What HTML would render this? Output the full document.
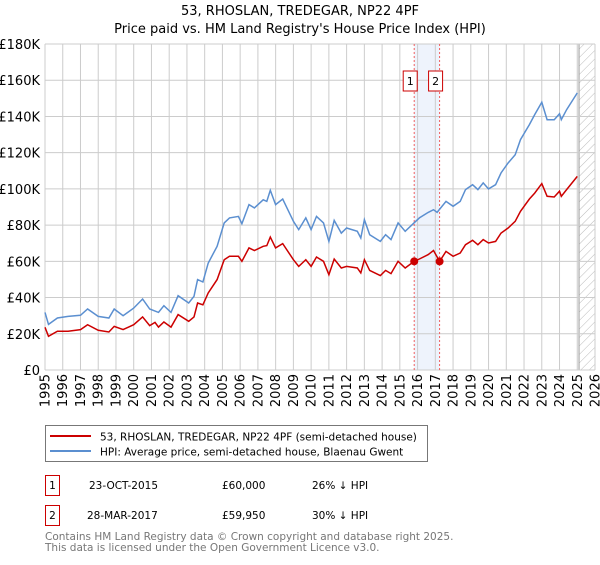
<!DOCTYPE html>
<html><head><meta charset="utf-8"><style>
body{margin:0;background:#fff;font-family:"Liberation Sans","DejaVu Sans",sans-serif}
svg text{font-family:"DejaVu Sans","Liberation Sans",sans-serif}
</style></head><body>
<svg id="chart" width="600" height="560" viewBox="0 0 600 560" xmlns="http://www.w3.org/2000/svg">
<defs><pattern id="hatch" width="6" height="6" patternUnits="userSpaceOnUse" patternTransform="rotate(45)"><line x1="0" y1="0" x2="0" y2="6" stroke="#bbb" stroke-width="1"/></pattern></defs>
<text x="300" y="15" text-anchor="middle" font-size="13">53, RHOSLAN, TREDEGAR, NP22 4PF</text>
<text x="300" y="33" text-anchor="middle" font-size="13">Price paid vs. HM Land Registry's House Price Index (HPI)</text>
<g id="grid"></g>
<g id="marks"></g>
<g id="axes"></g>
<rect x="45.5" y="425.5" width="382" height="36" fill="#fff" stroke="#777"/>
<line x1="50" y1="436" x2="91" y2="436" stroke="#cc0000" stroke-width="2"/>
<text x="100" y="440.5" font-size="10.5">53, RHOSLAN, TREDEGAR, NP22 4PF (semi-detached house)</text>
<line x1="50" y1="451" x2="91" y2="451" stroke="#5b8fd0" stroke-width="2"/>
<text x="100" y="455.5" font-size="10.5">HPI: Average price, semi-detached house, Blaenau Gwent</text>
<g font-size="10.5">
<rect x="45.5" y="475.5" width="14" height="20" fill="#fff" stroke="#cc0000"/>
<text x="52.5" y="489" text-anchor="middle">1</text>
<text x="89" y="489">23-OCT-2015</text><text x="222" y="489">£60,000</text><text x="312" y="489">26% ↓ HPI</text></g>
<g font-size="10.5">
<rect x="45.5" y="505.5" width="14" height="20" fill="#fff" stroke="#cc0000"/>
<text x="52.5" y="519" text-anchor="middle">2</text>
<text x="87" y="519">28-MAR-2017</text><text x="222" y="519">£59,950</text><text x="312" y="519">30% ↓ HPI</text></g>
<text x="45" y="540" font-size="10.5" fill="#777">Contains HM Land Registry data © Crown copyright and database right 2025.</text>
<text x="45" y="551" font-size="10.5" fill="#777">This data is licensed under the Open Government Licence v3.0.</text>
</svg>
<script>
const hpiYears=[1995.0,1995.2,1995.7,1996.3,1997.0,1997.4,1998.0,1998.6,1998.9,1999.4,2000.0,2000.5,2000.9,2001.4,2001.7,2002.1,2002.5,2003.1,2003.4,2003.6,2003.9,2004.2,2004.7,2005.1,2005.4,2005.9,2006.1,2006.5,2006.8,2007.3,2007.5,2007.7,2008.0,2008.4,2009.0,2009.3,2009.7,2010.0,2010.3,2010.7,2011.0,2011.3,2011.7,2012.0,2012.6,2012.8,2013.0,2013.3,2013.9,2014.2,2014.5,2014.9,2015.3,2015.8,2016.1,2016.6,2016.9,2017.1,2017.6,2018.0,2018.4,2018.7,2019.1,2019.4,2019.7,2020.0,2020.4,2020.7,2021.1,2021.5,2021.8,2022.3,2022.6,2023.0,2023.3,2023.7,2024.0,2024.1,2024.4,2025.0];
const hpiValues=[31800,25200,28700,29600,30200,33700,29600,28700,33700,30000,34200,39200,33700,31800,35500,31800,41000,37000,40700,49900,48600,59000,68300,81200,84000,84800,80800,91300,89500,94000,93100,99200,91300,94400,82100,77500,84000,77500,84800,81200,71000,82600,75600,78400,76600,72900,83000,74700,71000,74700,72000,81200,76600,81200,84000,87000,88500,87000,93100,90400,93100,99600,102300,99600,103300,100000,102300,108800,114300,118900,127200,135500,141000,147800,138200,138200,141500,138200,143700,153000];
const priceYears=[1995.0,1995.2,1995.7,1996.3,1997.0,1997.4,1998.0,1998.6,1998.9,1999.4,2000.0,2000.5,2000.9,2001.2,2001.4,2001.7,2002.1,2002.5,2003.1,2003.4,2003.6,2003.9,2004.2,2004.7,2005.1,2005.4,2005.9,2006.1,2006.5,2006.8,2007.3,2007.5,2007.7,2008.0,2008.4,2009.0,2009.3,2009.7,2010.0,2010.3,2010.7,2011.0,2011.3,2011.7,2012.0,2012.6,2012.8,2013.0,2013.3,2013.9,2014.2,2014.5,2014.9,2015.3,2015.81,2016.1,2016.6,2016.9,2017.24,2017.6,2018.0,2018.4,2018.7,2019.1,2019.4,2019.7,2020.0,2020.4,2020.7,2021.1,2021.5,2021.8,2022.3,2022.6,2023.0,2023.3,2023.7,2024.0,2024.1,2024.4,2025.0];
const priceValues=[23600,18600,21400,21400,22300,25000,21900,21000,24100,22300,25000,29300,24500,26300,23700,26500,23700,30600,26900,29300,37000,36000,42500,49900,60900,62800,62800,60000,67400,66000,68300,68700,73400,67400,69800,60900,57200,60900,57200,62400,60000,52600,61300,56300,57200,56300,53600,60900,55000,52100,55000,53200,60000,56300,60000,61300,63700,66000,59950,65500,62800,64600,69200,71600,69200,72000,70100,71000,75600,78400,82100,87600,94400,97700,102900,95900,95500,98700,95900,99600,106900];
const saleYears=[2015.81,2017.24];
const salePrices=[60000,59950];
const saleLabels=["1","2"];
const yTicks=[0,20000,40000,60000,80000,100000,120000,140000,160000,180000];
const yTickLabels=["£0","£20K","£40K","£60K","£80K","£100K","£120K","£140K","£160K","£180K"];
const xTicks=[1995,1996,1997,1998,1999,2000,2001,2002,2003,2004,2005,2006,2007,2008,2009,2010,2011,2012,2013,2014,2015,2016,2017,2018,2019,2020,2021,2022,2023,2024,2025,2026];
const forecastStart=2025.1;

const NS="http://www.w3.org/2000/svg";
const L=45,R=595,T=44,B=370,X0=1995,X1=2026,YMAX=180000;
const xs=v=>L+(v-X0)/(X1-X0)*(R-L);
const ys=v=>B-v/YMAX*(B-T);
function mk(tag,attrs,parent){const e=document.createElementNS(NS,tag);for(const k in attrs)e.setAttribute(k,attrs[k]);parent.appendChild(e);return e;}
const grid=document.getElementById('grid'),marks=document.getElementById('marks'),axes=document.getElementById('axes');
const band=mk('rect',{x:xs(saleYears[0]),y:T,width:xs(saleYears[1])-xs(saleYears[0]),height:B-T,fill:'#eef3fc'},grid);


const hat=mk('rect',{x:xs(forecastStart),y:T,width:R-xs(forecastStart),height:B-T,fill:'url(#hatch)'},grid);


mk('line',{x1:xs(forecastStart),y1:T,x2:xs(forecastStart),y2:B,stroke:'#999'},grid);
yTicks.forEach((v,i)=>{
  mk('line',{x1:L,y1:ys(v),x2:R,y2:ys(v),stroke:'#ccc'},grid);
  const t=mk('text',{x:L-5,y:ys(v)+5,'text-anchor':'end','font-size':13},axes);
  t.textContent=yTickLabels[i];
  
  
});
xTicks.forEach(v=>{
  mk('line',{x1:xs(v),y1:T,x2:xs(v),y2:B,stroke:'#ccc'},grid);
  const t=mk('text',{x:xs(v)+4.5,y:B+4,'text-anchor':'end','font-size':13,transform:`rotate(-90 ${xs(v)+4.5} ${B+4})`},axes);
  t.textContent=String(v);
  
  
});
saleYears.forEach((yr,i)=>{
  const ln=mk('line',{x1:xs(yr),y1:T,x2:xs(yr),y2:B,stroke:'#f06060','stroke-dasharray':'2,2'},grid);
  
  
  const bx=xs(yr)-4;
  const r=mk('rect',{x:bx-7,y:71,width:14,height:20,fill:'#fff',stroke:'#cc0000'},marks);
  
  
  const t=mk('text',{x:bx,y:85,'text-anchor':'middle','font-size':11},marks);
  t.textContent=saleLabels[i];
});
function path(xa,va){return xa.map((x,i)=>(i?'L':'M')+xs(x).toFixed(1)+','+ys(va[i]).toFixed(1)).join('');}
const hp=mk('path',{d:path(hpiYears,hpiValues),fill:'none',stroke:'#5b8fd0','stroke-width':1.5},marks);


const pp=mk('path',{d:path(priceYears,priceValues),fill:'none',stroke:'#cc0000','stroke-width':1.5},marks);


saleYears.forEach((yr,i)=>{
  const c=mk('circle',{cx:xs(yr),cy:ys(salePrices[i]),r:4,fill:'#cc0000'},marks);
  
  
});
</script>
</body></html>
